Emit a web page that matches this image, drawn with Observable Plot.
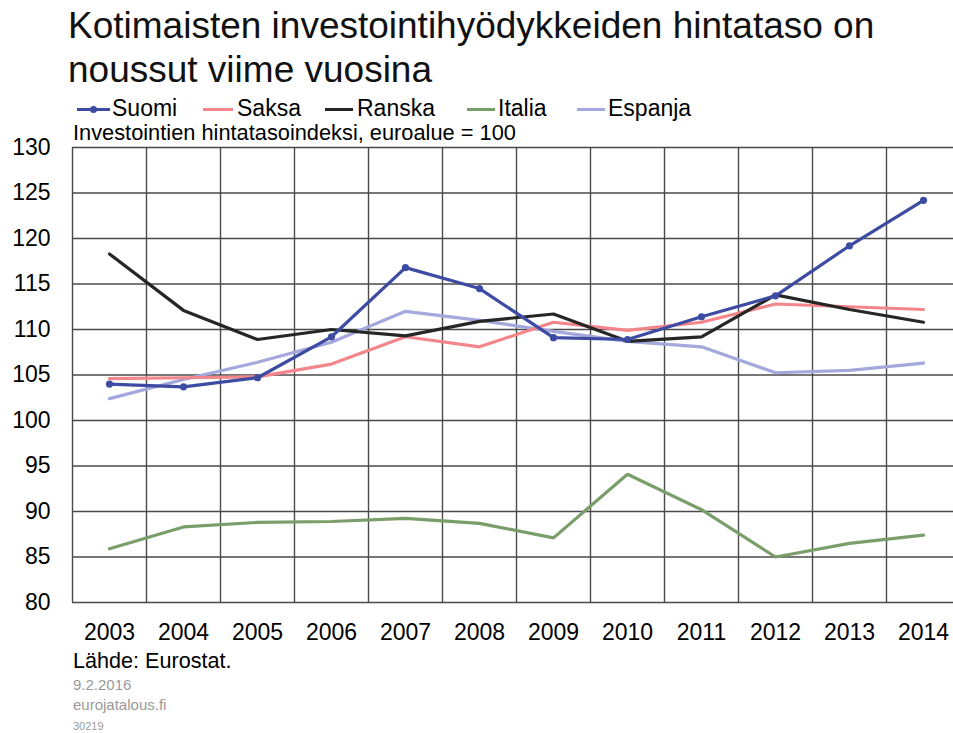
<!DOCTYPE html>
<html>
<head>
<meta charset="utf-8">
<script src="https://cdn.jsdelivr.net/npm/d3@7"></script>
<script src="https://cdn.jsdelivr.net/npm/@observablehq/plot@0.6"></script>
<style>
  html, body { margin: 0; padding: 0; background: #fff; }
  #wrap { position: relative; width: 953px; height: 733px; overflow: hidden; font-family: "Liberation Sans", Arial, sans-serif; color: #000; }
  #chart { position: absolute; left: 0; top: 0; }
  .t { position: absolute; white-space: nowrap; line-height: 1; }
  .sw { position: absolute; height: 3px; }
  .dot { position: absolute; width: 7px; height: 7px; border-radius: 50%; }
</style>
</head>
<body>
<div id="wrap">
  <div id="chart"></div>
  <div class="t" style="left:68px; top:6.7px; font-size:37px; color:#111;">Kotimaisten investointihyödykkeiden hintataso on</div>
  <div class="t" style="left:68px; top:50.7px; font-size:37px; color:#111;">noussut viime vuosina</div>
  <div id="legend"></div>
  <div class="t" style="left:73px; top:122.2px; font-size:21.8px;">Investointien hintatasoindeksi, euroalue = 100</div>
  <div class="t" style="left:73px; top:649.8px; font-size:21.6px;">Lähde: Eurostat.</div>
  <div class="t" style="left:73px; top:677.3px; font-size:15px; color:#999;">9.2.2016</div>
  <div class="t" style="left:73px; top:697.3px; font-size:15px; color:#999;">eurojatalous.fi</div>
  <div class="t" style="left:73px; top:721.2px; font-size:11px; color:#999;">30219</div>
</div>
<script>
const years = [2003, 2004, 2005, 2006, 2007, 2008, 2009, 2010, 2011, 2012, 2013, 2014];
const suomi   = [104.0, 103.7, 104.7, 109.2, 116.8, 114.5, 109.1, 108.9, 111.4, 113.7, 119.2, 124.2];
const saksa   = [104.6, 104.7, 104.8, 106.2, 109.2, 108.1, 110.8, 109.9, 110.8, 112.8, 112.5, 112.2];
const ranska  = [118.3, 112.1, 108.9, 110.0, 109.3, 110.9, 111.7, 108.7, 109.2, 113.8, 112.2, 110.8];
const italia  = [85.9, 88.3, 88.8, 88.9, 89.25, 88.7, 87.1, 94.1, 90.2, 85.0, 86.5, 87.4];
const espanja = [102.4, 104.5, 106.4, 108.6, 112.0, 111.0, 109.8, 108.7, 108.1, 105.25, 105.5, 106.3];
const seriesNames = ["Suomi", "Saksa", "Ranska", "Italia", "Espanja"];
const seriesColors = ["#3d4ba3", "#f4868b", "#262626", "#7a9e6a", "#a3a8dd"];
const yTicks = [80, 85, 90, 95, 100, 105, 110, 115, 120, 125, 130];

const seriesValues = { Suomi: suomi, Saksa: saksa, Ranska: ranska, Italia: italia, Espanja: espanja };
const drawOrder = ["Italia", "Espanja", "Saksa", "Ranska", "Suomi"];
const rows = [];
for (const name of drawOrder) {
  seriesValues[name].forEach((v, i) => rows.push({ series: name, year: years[i], value: v }));
}
const boundaries = years.map(y => y - 0.5).concat([years[years.length - 1] + 0.5]);

const chart = Plot.plot({
  width: 953,
  height: 733,
  marginTop: 147,
  marginBottom: 131,
  marginLeft: 72,
  marginRight: 0,
  style: { fontFamily: "'Liberation Sans', Arial, sans-serif", color: "#000", background: "transparent", overflow: "visible" },
  x: { domain: [2002.5, 2014.5], range: [72, 960], label: null },
  y: { domain: [80, 130], range: [602, 147], label: null },
  color: { domain: seriesNames, range: seriesColors },
  marks: [
    Plot.ruleY(yTicks, { stroke: "#4a4a4a", strokeWidth: 1.4 }),
    Plot.ruleX(boundaries, { y1: 80, y2: 130, stroke: "#4a4a4a", strokeWidth: 1.4 }),
    Plot.axisY(yTicks, { tickSize: 0, tickPadding: 22, fontSize: 23, label: null }),
    Plot.axisX(years, { tickSize: 0, tickPadding: 21, fontSize: 23, label: null, tickFormat: d => String(d) }),
    Plot.line(rows, { x: "year", y: "value", z: "series", stroke: "series", strokeWidth: 3.2, strokeLinejoin: "miter" }),
    Plot.dot(rows.filter(d => d.series === "Suomi"), { x: "year", y: "value", r: 3.6, fill: "series", stroke: null })
  ]
});
document.getElementById("chart").appendChild(chart);

// legend
const legendPos = [
  { sw: [77, 110], tx: 112 },
  { sw: [203, 233], tx: 237 },
  { sw: [325, 353], tx: 357 },
  { sw: [467, 495], tx: 498 },
  { sw: [577, 605], tx: 608 }
];
const legend = document.getElementById("legend");
seriesNames.forEach((name, i) => {
  const p = legendPos[i];
  const sw = document.createElement("div");
  sw.className = "sw";
  sw.style.left = p.sw[0] + "px";
  sw.style.width = (p.sw[1] - p.sw[0]) + "px";
  sw.style.top = "107.5px";
  sw.style.background = seriesColors[i];
  legend.appendChild(sw);
  if (name === "Suomi") {
    const d = document.createElement("div");
    d.className = "dot";
    d.style.left = ((p.sw[0] + p.sw[1]) / 2 - 3.5) + "px";
    d.style.top = "105.5px";
    d.style.background = seriesColors[i];
    legend.appendChild(d);
  }
  const t = document.createElement("div");
  t.className = "t";
  t.style.left = p.tx + "px";
  t.style.top = "97.2px";
  t.style.fontSize = "23px";
  t.textContent = name;
  legend.appendChild(t);
});
</script>
</body>
</html>
